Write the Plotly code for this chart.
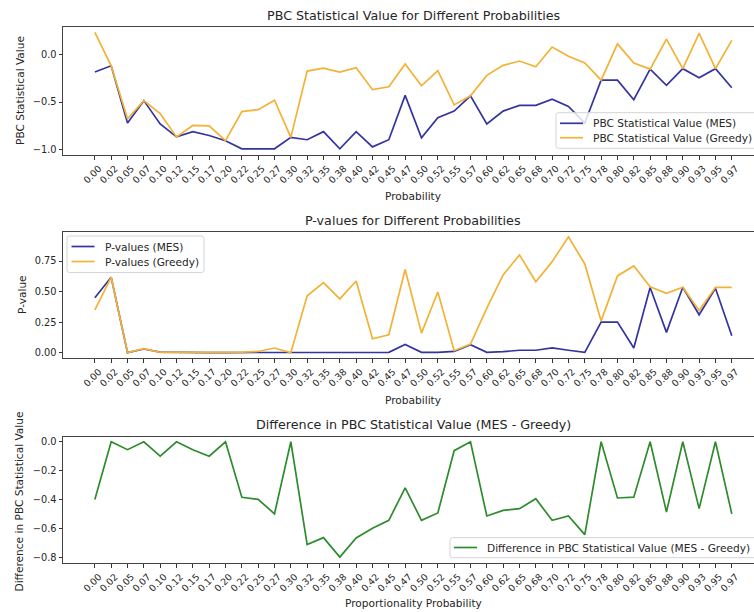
import plotly.graph_objects as go

# Proportionality probabilities (tick labels, two decimals)
probabilities = [
    "0.00", "0.02", "0.05", "0.07", "0.10", "0.12", "0.15", "0.17", "0.20", "0.22",
    "0.25", "0.27", "0.30", "0.32", "0.35", "0.38", "0.40", "0.42", "0.45", "0.47",
    "0.50", "0.52", "0.55", "0.57", "0.60", "0.62", "0.65", "0.68", "0.70", "0.72",
    "0.75", "0.78", "0.80", "0.82", "0.85", "0.88", "0.90", "0.93", "0.95", "0.97",
]

pbc_mes = [
    -0.185, -0.12, -0.72, -0.485, -0.73, -0.865, -0.81, -0.85, -0.905, -0.99,
    -0.99, -0.99, -0.87, -0.895, -0.81, -0.99, -0.81, -0.97, -0.895, -0.43,
    -0.875, -0.665, -0.595, -0.435, -0.73, -0.595, -0.535, -0.535, -0.47, -0.545,
    -0.72, -0.27, -0.27, -0.475, -0.155, -0.325, -0.15, -0.245, -0.15, -0.35,
]
pbc_greedy = [
    0.23, -0.12, -0.675, -0.485, -0.62, -0.865, -0.745, -0.75, -0.905, -0.60,
    -0.58, -0.48, -0.87, -0.175, -0.145, -0.185, -0.14, -0.37, -0.34, -0.10,
    -0.33, -0.17, -0.53, -0.435, -0.22, -0.115, -0.07, -0.13, 0.077, -0.02,
    -0.09, -0.27, 0.11, -0.09, -0.155, 0.16, -0.15, 0.22, -0.15, 0.147,
]

p_mes = [
    0.45, 0.617, 0.0, 0.03, 0.005, 0.002, 0.001, 0.001, 0.001, 0.001,
    0.001, 0.001, 0.002, 0.003, 0.003, 0.003, 0.003, 0.003, 0.003, 0.068,
    0.003, 0.003, 0.01, 0.065, 0.003, 0.008, 0.02, 0.02, 0.04, 0.02,
    0.003, 0.25, 0.25, 0.038, 0.533, 0.166, 0.535, 0.31, 0.527, 0.139,
]
p_greedy = [
    0.35, 0.617, 0.0, 0.033, 0.003, 0.002, 0.002, 0.002, 0.003, 0.005,
    0.01, 0.038, 0.0, 0.465, 0.573, 0.44, 0.587, 0.114, 0.147, 0.68,
    0.16, 0.497, 0.016, 0.07, 0.364, 0.636, 0.80, 0.58, 0.745, 0.948,
    0.726, 0.26, 0.628, 0.71, 0.54, 0.486, 0.535, 0.345, 0.535, 0.535,
]

pbc_difference = [
    -0.40, 0.0, -0.055, 0.0, -0.10, 0.0, -0.055, -0.10, 0.0, -0.385,
    -0.40, -0.50, 0.0, -0.713, -0.665, -0.80, -0.667, -0.60, -0.545, -0.32,
    -0.545, -0.494, -0.062, 0.0, -0.515, -0.476, -0.464, -0.395, -0.545, -0.515,
    -0.644, 0.0, -0.39, -0.384, 0.0, -0.487, 0.0, -0.464, 0.0, -0.50,
]

BLUE = "#3434a0"
ORANGE = "#f2b236"
GREEN = "#2e8b2e"
FONT = "DejaVu Sans"
TXT = "#262626"
W, H = 754, 612
LW = 1.7

LABEL_SIZE = 10.6
TITLE_SIZE = 12.7
YTICK_SIZE = 9.8
XTICK_SIZE = 9.3

fig = go.Figure()

series = [
    (pbc_mes, "PBC Statistical Value (MES)", BLUE, ""),
    (pbc_greedy, "PBC Statistical Value (Greedy)", ORANGE, ""),
    (p_mes, "P-values (MES)", BLUE, "2"),
    (p_greedy, "P-values (Greedy)", ORANGE, "2"),
    (pbc_difference, "Difference in PBC Statistical Value (MES - Greedy)", GREEN, "3"),
]
for values, name, color, suffix in series:
    fig.add_trace(go.Scatter(x=probabilities, y=values, mode="lines", name=name,
                             line=dict(color=color, width=LW), showlegend=False,
                             xaxis="x" + suffix, yaxis="y" + suffix))

x_left = 63 / W
x_range = [-1.95, 40.36]


def px_x(x):
    return x / W


def px_y(y):
    return 1 - y / H


panels = [
    # (axis suffix, top px, bottom px, y range, tick values, tick format)
    ("", 27, 155, [-1.055, 0.287], [-1.0, -0.5, 0.0], ".1f"),
    ("2", 231.7, 358.3, [-0.046, 0.99], [0.0, 0.25, 0.5, 0.75], ".2f"),
    ("3", 436.7, 563.3, [-0.843, 0.035], [-0.8, -0.6, -0.4, -0.2, 0.0], ".1f"),
]

axis_common = dict(showline=True, linecolor="#444444", linewidth=1, showgrid=False, zeroline=False,
                   ticks="outside", ticklen=3.5, tickwidth=0.8, tickcolor="#333333")

layout = dict(
    width=W, height=H, margin=dict(l=0, r=0, t=0, b=0),
    paper_bgcolor="white", plot_bgcolor="white",
    font=dict(family=FONT, color=TXT, size=LABEL_SIZE),
    showlegend=False,
)

for suffix, top, bottom, yr, tv, fmt in panels:
    layout["xaxis" + suffix] = dict(
        domain=[x_left, 1], anchor="y" + suffix, range=x_range, type="category",
        tickmode="array", tickvals=probabilities, ticktext=probabilities,
        tickangle=-45, ticklabelshift=4, mirror=True,
        tickfont=dict(family=FONT, size=XTICK_SIZE, color=TXT), **axis_common)
    layout["yaxis" + suffix] = dict(
        domain=[px_y(bottom), px_y(top)], anchor="x" + suffix, range=yr,
        tickmode="array", tickvals=tv, tickformat=fmt,
        tickfont=dict(family=FONT, size=YTICK_SIZE, color=TXT), **axis_common)

fig.update_layout(**layout)

# Panel titles and axis labels
titles = [
    ("PBC Statistical Value for Different Probabilities", 15, ""),
    ("P-values for Different Probabilities", 220, "2"),
    ("Difference in PBC Statistical Value (MES - Greedy)", 424, "3"),
]
for text, ypx, suffix in titles:
    fig.add_annotation(text=text, x=19.5, xref="x" + suffix, y=px_y(ypx), yref="paper",
                       showarrow=False, xanchor="center", yanchor="middle",
                       font=dict(family=FONT, size=TITLE_SIZE, color=TXT))

xlabels = [("Probability", 196, ""), ("Probability", 400, "2"), ("Proportionality Probability", 603, "3")]
for text, ypx, suffix in xlabels:
    fig.add_annotation(text=text, x=19.5, xref="x" + suffix, y=px_y(ypx), yref="paper",
                       showarrow=False, xanchor="center", yanchor="middle",
                       font=dict(family=FONT, size=LABEL_SIZE, color=TXT))

ylabels = [("PBC Statistical Value", 20, 91), ("P-value", 22, 295),
           ("Difference in PBC Statistical Value", 18.5, 502)]
for text, xpx, ypx in ylabels:
    fig.add_annotation(text=text, x=px_x(xpx), xref="paper", y=px_y(ypx), yref="paper",
                       showarrow=False, textangle=-90, xanchor="center", yanchor="middle",
                       font=dict(family=FONT, size=LABEL_SIZE, color=TXT))


# Legend boxes: frame, line samples and entry labels
def rounded_box(x0, y0, x1, y1, r=2.5):
    X = lambda v: px_x(v)
    Y = lambda v: px_y(v)
    return (f"M {X(x0 + r)},{Y(y0)} L {X(x1 - r)},{Y(y0)} Q {X(x1)},{Y(y0)} {X(x1)},{Y(y0 + r)} "
            f"L {X(x1)},{Y(y1 - r)} Q {X(x1)},{Y(y1)} {X(x1 - r)},{Y(y1)} "
            f"L {X(x0 + r)},{Y(y1)} Q {X(x0)},{Y(y1)} {X(x0)},{Y(y1 - r)} "
            f"L {X(x0)},{Y(y0 + r)} Q {X(x0)},{Y(y0)} {X(x0 + r)},{Y(y0)} Z")


legends = [
    # box (x0, y0, x1, y1), entries [(row y, label, color)], sample x0, sample x1, text x
    ((556, 112.7, 758, 148.3),
     [(123.3, "PBC Statistical Value (MES)", BLUE), (137.7, "PBC Statistical Value (Greedy)", ORANGE)],
     560, 583, 590.5),
    ((67, 236, 204, 272.5),
     [(246.5, "P-values (MES)", BLUE), (261.5, "P-values (Greedy)", ORANGE)],
     71.5, 94.5, 102.5),
    ((450, 537.7, 758, 557.7),
     [(547.5, "Difference in PBC Statistical Value (MES - Greedy)", GREEN)],
     454, 477, 484.5),
]
for (bx0, by0, bx1, by1), entries, sx0, sx1, tx in legends:
    fig.add_shape(type="path", path=rounded_box(bx0, by0, bx1, by1), xref="paper", yref="paper",
                  fillcolor="rgba(255,255,255,0.8)", line=dict(color="#d4d4d4", width=1), layer="above")
    for ry, label, color in entries:
        fig.add_shape(type="line", x0=px_x(sx0), x1=px_x(sx1), y0=px_y(ry), y1=px_y(ry),
                      xref="paper", yref="paper", line=dict(color=color, width=LW), layer="above")
        fig.add_annotation(text=label, x=px_x(tx), xref="paper", y=px_y(ry), yref="paper",
                           showarrow=False, xanchor="left", yanchor="middle",
                           font=dict(family=FONT, size=LABEL_SIZE, color=TXT))

fig.write_html("out.html")
